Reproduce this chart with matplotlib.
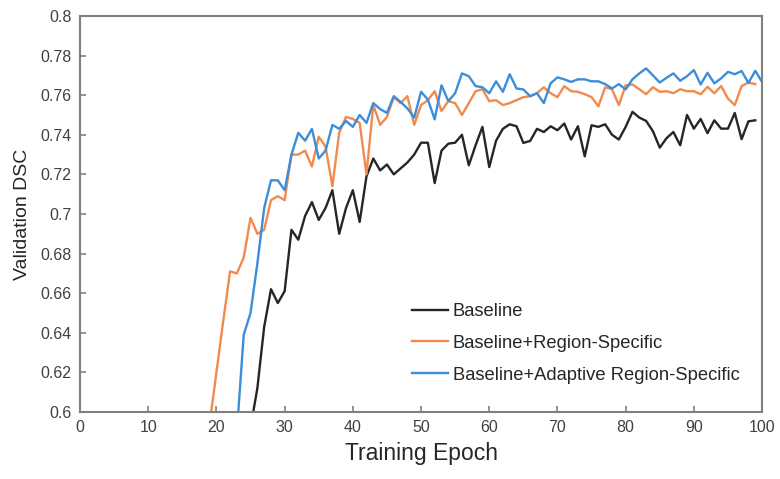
import matplotlib
matplotlib.use("Agg")
import matplotlib.pyplot as plt
from matplotlib.ticker import FuncFormatter

plt.rcParams['font.family'] = ['Liberation Sans', 'DejaVu Sans']

# validation DSC per epoch (values below 0.6 are clipped)
ep_base = list(range(25, 100))
dsc_base = [0.592, 0.612, 0.643, 0.662, 0.655, 0.661, 0.692, 0.687, 0.699, 0.706,
            0.697, 0.703, 0.712, 0.690, 0.703, 0.712, 0.696, 0.719, 0.728, 0.722,
            0.725, 0.720, 0.723, 0.726, 0.730, 0.736, 0.736, 0.7156, 0.732, 0.7355,
            0.736, 0.740, 0.7246, 0.7347, 0.744, 0.7237, 0.737, 0.743, 0.7453, 0.7443,
            0.7359, 0.7369, 0.743, 0.7414, 0.7443, 0.7423, 0.7457, 0.7376, 0.7443, 0.7291,
            0.7448, 0.744, 0.7453, 0.740, 0.7376, 0.744, 0.7516, 0.7487, 0.747, 0.7418,
            0.7335, 0.7383, 0.7414, 0.7347, 0.750, 0.7431, 0.748, 0.7408, 0.7473, 0.7431,
            0.7431, 0.751, 0.7378, 0.7468, 0.7473]

ep_rs = list(range(19, 100))
dsc_rs = [0.594, 0.620, 0.646, 0.671, 0.670, 0.678, 0.698, 0.690, 0.692, 0.707,
          0.709, 0.707, 0.730, 0.730, 0.732, 0.724, 0.739, 0.734, 0.714, 0.741,
          0.749, 0.748, 0.746, 0.720, 0.755, 0.745, 0.749, 0.759, 0.756, 0.7595,
          0.745, 0.755, 0.7575, 0.762, 0.752, 0.757, 0.756, 0.750, 0.756, 0.762,
          0.763, 0.757, 0.7575, 0.755, 0.756, 0.7575, 0.759, 0.7595, 0.761, 0.764,
          0.761, 0.759, 0.7646, 0.762, 0.7617, 0.7605, 0.759, 0.7544, 0.764, 0.763,
          0.755, 0.765, 0.7654, 0.763, 0.7605, 0.764, 0.7617, 0.762, 0.761, 0.763,
          0.762, 0.762, 0.7605, 0.7642, 0.761, 0.7646, 0.7583, 0.755, 0.7646, 0.7664,
          0.7656]

ep_ars = list(range(23, 101))
dsc_ars = [0.590, 0.639, 0.650, 0.675, 0.703, 0.717, 0.717, 0.712, 0.730, 0.741,
           0.737, 0.743, 0.728, 0.732, 0.745, 0.743, 0.747, 0.744, 0.750, 0.746,
           0.756, 0.753, 0.751, 0.7595, 0.7566, 0.7533, 0.7487, 0.7617, 0.7578, 0.7478,
           0.765, 0.757, 0.761, 0.771, 0.7696, 0.7646, 0.764, 0.761, 0.767, 0.7617,
           0.7706, 0.7634, 0.7629, 0.7595, 0.761, 0.756, 0.766, 0.769, 0.768, 0.7667,
           0.768, 0.768, 0.767, 0.767, 0.7656, 0.7634, 0.7656, 0.7629, 0.768, 0.771,
           0.7735, 0.770, 0.7664, 0.7688, 0.771, 0.7673, 0.7696, 0.7727, 0.7654, 0.7713,
           0.766, 0.7685, 0.7718, 0.7706, 0.7722, 0.7662, 0.7723, 0.7667]

labels = ['Baseline', 'Baseline+Region-Specific', 'Baseline+Adaptive Region-Specific']
colors = ['#262626', '#F28A4C', '#3B8EDB']

fig = plt.figure(figsize=(7.8, 4.79), dpi=100)
ax = fig.add_axes([0.1026, 0.140, 0.8744, 0.8266])

ax.plot(ep_base, dsc_base, color=colors[0], lw=1.7, label=labels[0])
ax.plot(ep_rs, dsc_rs, color=colors[1], lw=1.7, label=labels[1])
ax.plot(ep_ars, dsc_ars, color=colors[2], lw=1.7, label=labels[2])

ax.set_xlim(0, 100)
ax.set_ylim(0.6, 0.8)
ax.set_xticks(range(0, 101, 10))
ax.set_yticks([0.6 + 0.02 * i for i in range(11)])
ax.yaxis.set_major_formatter(FuncFormatter(lambda v, p: '%g' % round(v, 2)))

for s in ax.spines.values():
    s.set_color('#7f7f7f')
    s.set_linewidth(1.5)
ax.tick_params(direction='in', length=4, width=1.2, color='#7f7f7f',
               labelsize=11.5, labelcolor='#404040', pad=6)

ax.set_xlabel('Training Epoch', fontsize=16.5, color='#262626', labelpad=5)
ax.set_ylabel('Validation DSC', fontsize=14, color='#262626', labelpad=7)

leg = ax.legend(loc='lower left', bbox_to_anchor=(0.462, 0.03), frameon=False,
                fontsize=13.2, handlelength=2.0, labelspacing=0.8, handletextpad=0.25)
for t in leg.get_texts():
    t.set_color('#262626')

fig.savefig('out.png', dpi=100)
